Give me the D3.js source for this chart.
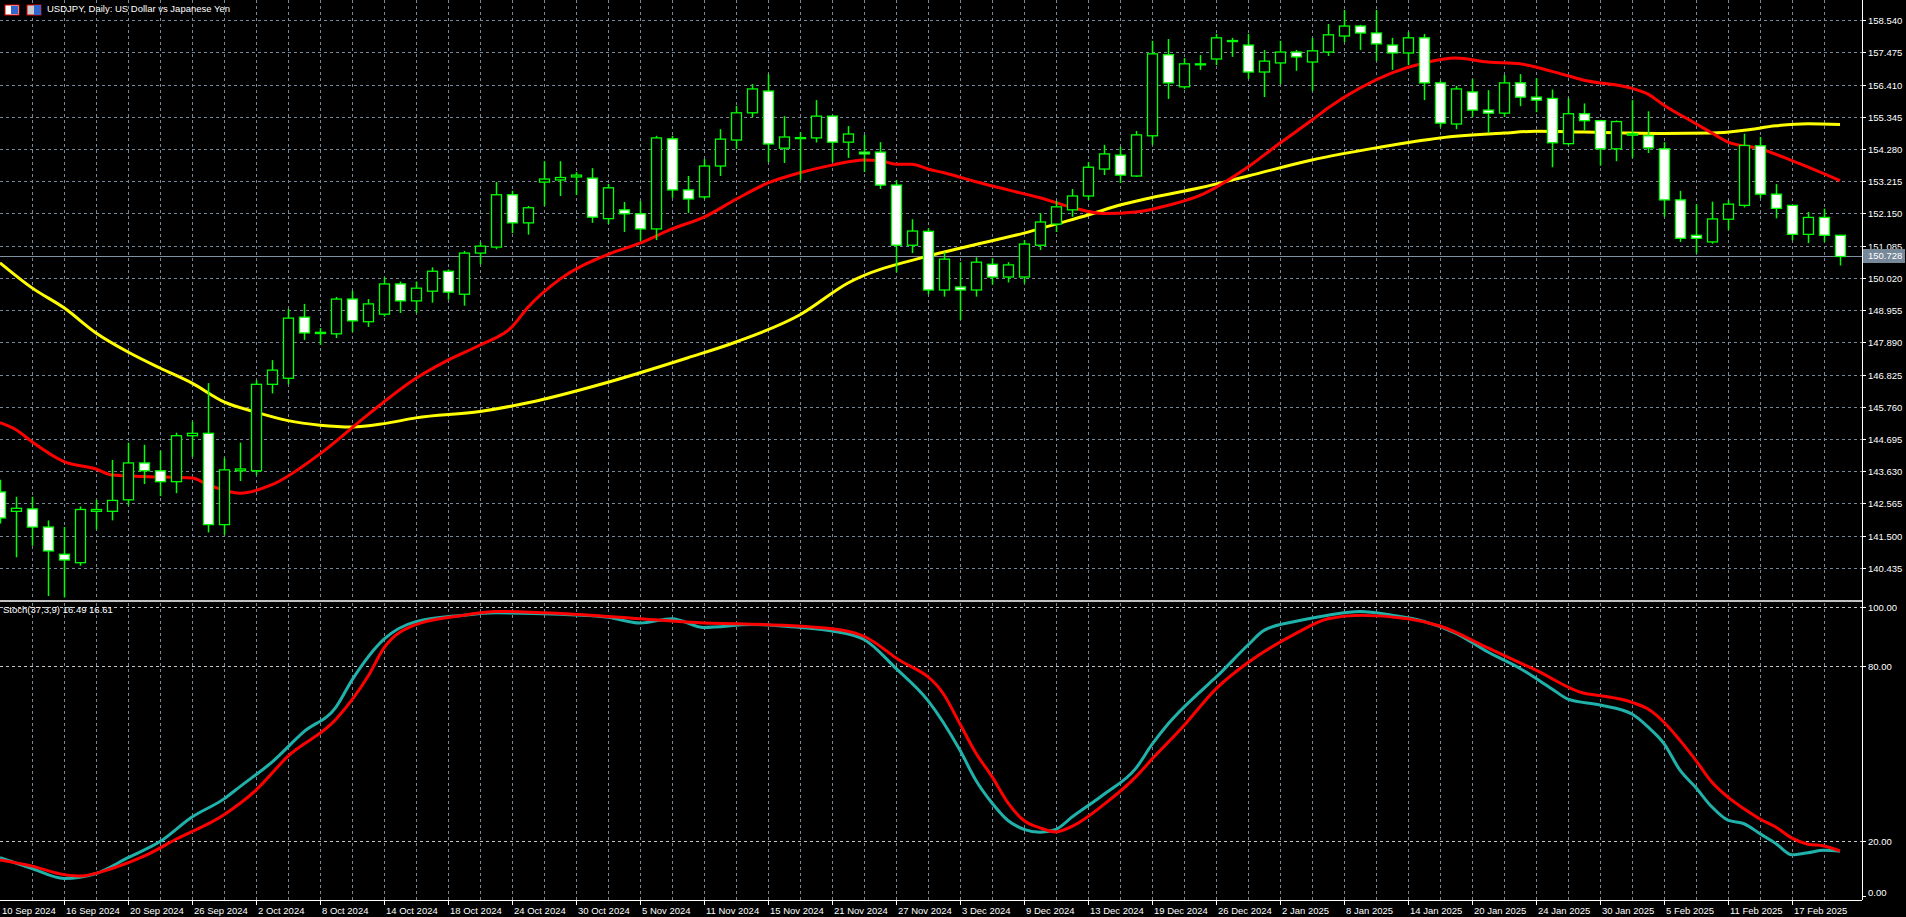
<!DOCTYPE html>
<html><head><meta charset="utf-8">
<script src="https://cdn.jsdelivr.net/npm/d3@7/dist/d3.min.js"></script>
<style>html,body{margin:0;padding:0;background:#000;overflow:hidden}svg{display:block}</style>
</head><body>
<script>
const dates = ["2024-09-10","2024-09-11","2024-09-12","2024-09-13","2024-09-16","2024-09-17","2024-09-18","2024-09-19","2024-09-20","2024-09-23","2024-09-24","2024-09-25","2024-09-26","2024-09-27","2024-09-30",
"2024-10-01","2024-10-02","2024-10-03","2024-10-04","2024-10-07","2024-10-08","2024-10-09","2024-10-10","2024-10-11","2024-10-14","2024-10-15","2024-10-16","2024-10-17","2024-10-18","2024-10-21","2024-10-22","2024-10-23","2024-10-24","2024-10-25","2024-10-28","2024-10-29","2024-10-30","2024-10-31",
"2024-11-01","2024-11-04","2024-11-05","2024-11-06","2024-11-07","2024-11-08","2024-11-11","2024-11-12","2024-11-13","2024-11-14","2024-11-15","2024-11-18","2024-11-19","2024-11-20","2024-11-21","2024-11-22","2024-11-25","2024-11-26","2024-11-27","2024-11-28","2024-11-29",
"2024-12-02","2024-12-03","2024-12-04","2024-12-05","2024-12-06","2024-12-09","2024-12-10","2024-12-11","2024-12-12","2024-12-13","2024-12-16","2024-12-17","2024-12-18","2024-12-19","2024-12-20","2024-12-23","2024-12-24","2024-12-26","2024-12-27","2024-12-30","2024-12-31",
"2025-01-02","2025-01-03","2025-01-06","2025-01-07","2025-01-08","2025-01-09","2025-01-10","2025-01-13","2025-01-14","2025-01-15","2025-01-16","2025-01-17","2025-01-20","2025-01-21","2025-01-22","2025-01-23","2025-01-24","2025-01-27","2025-01-28","2025-01-29","2025-01-30","2025-01-31",
"2025-02-03","2025-02-04","2025-02-05","2025-02-06","2025-02-07","2025-02-10","2025-02-11","2025-02-12","2025-02-13","2025-02-14","2025-02-17","2025-02-18","2025-02-19","2025-02-20"];
const open  = [142.94,142.30,142.38,141.78,140.88,140.60,142.30,142.30,142.68,143.90,143.64,143.28,144.80,144.88,141.86,143.64,143.64,146.50,146.70,148.72,148.22,148.17,149.32,148.57,148.82,149.82,149.26,149.58,150.24,149.48,150.84,151.04,152.77,151.84,153.19,153.26,153.36,153.32,151.98,152.27,152.14,151.64,154.62,152.93,152.70,153.72,154.58,155.48,156.20,154.31,154.64,154.65,155.37,154.51,154.18,154.18,153.09,151.10,151.56,149.62,149.72,149.62,150.47,150.05,150.05,151.10,151.80,152.27,152.73,153.62,154.08,153.39,154.72,157.40,156.34,157.07,157.26,157.85,157.72,156.83,157.13,157.49,157.16,157.49,158.02,158.35,158.12,157.72,157.46,157.96,156.47,155.11,156.17,155.57,155.47,156.47,156.00,155.955,154.46,155.45,155.22,154.29,154.74,154.72,154.29,152.60,151.43,151.21,151.96,152.42,154.39,152.79,152.42,151.46,152.02,151.43];
const high  = [143.34,142.78,142.78,142.00,141.78,142.46,142.68,144.00,144.57,144.50,144.30,144.90,145.27,146.54,144.07,144.57,146.64,147.30,148.99,149.16,148.36,149.39,149.59,149.32,150.04,149.90,149.90,150.37,150.30,150.91,151.20,153.19,152.90,152.40,153.88,153.88,153.52,153.65,153.13,152.53,152.56,154.72,154.72,153.39,153.95,154.94,155.71,156.43,156.76,155.37,154.84,155.90,155.40,155.04,154.75,154.51,153.25,151.96,151.66,150.87,150.54,150.70,150.67,150.54,151.27,152.17,152.57,152.96,153.85,154.42,154.35,154.88,157.86,157.92,157.29,157.39,158.09,157.96,158.09,157.56,157.86,157.56,157.96,158.42,158.88,158.39,158.88,157.96,158.15,158.09,156.54,156.37,156.60,156.23,156.73,156.76,156.63,156.25,155.97,155.79,155.25,155.23,155.90,155.53,154.51,152.90,152.46,152.54,152.59,154.79,154.68,153.12,152.43,152.20,152.31,151.43];
const low   = [141.90,140.78,141.16,139.50,139.45,140.50,141.70,142.00,142.50,143.20,142.80,142.90,144.10,141.60,141.52,143.30,143.50,146.20,146.50,147.97,147.80,148.03,148.23,148.40,148.74,148.86,148.86,149.20,149.30,149.10,150.47,150.97,151.50,151.45,152.40,152.73,152.76,151.84,151.80,151.54,151.24,151.27,152.67,152.17,152.63,153.39,154.28,155.34,153.85,153.82,153.26,154.50,153.85,153.99,153.52,152.96,150.20,150.84,149.48,149.40,148.63,149.40,149.80,149.87,149.84,150.94,151.54,152.04,152.60,153.42,153.16,153.36,154.42,155.94,156.27,156.90,157.06,157.33,156.60,156.00,156.43,156.87,156.20,157.36,157.82,157.56,157.20,156.90,157.06,155.90,155.00,154.94,155.34,154.81,155.34,155.70,155.50,153.68,154.40,154.90,153.73,153.88,153.99,154.15,152.04,151.21,150.83,151.15,151.61,152.35,152.66,151.99,151.26,151.17,151.21,150.43];
const close = [142.08,142.40,141.78,140.99,140.69,142.36,142.36,142.66,143.90,143.64,143.28,144.80,144.88,141.86,143.67,143.70,146.50,146.97,148.69,148.20,148.18,149.32,148.60,149.16,149.82,149.26,149.68,150.24,149.55,150.84,151.07,152.77,151.84,152.34,153.29,153.34,153.42,152.03,153.00,152.14,151.64,154.65,152.93,152.63,153.72,154.61,155.48,156.27,154.45,154.68,154.66,155.37,154.51,154.78,154.12,153.09,151.10,151.57,149.62,150.64,149.62,150.54,150.05,150.45,151.14,151.87,152.37,152.73,153.68,154.12,153.42,154.75,157.43,156.47,157.10,157.10,157.96,157.87,156.83,157.19,157.49,157.33,157.53,158.06,158.35,158.12,157.76,157.46,157.96,156.47,155.14,156.27,155.57,155.47,156.47,156.00,155.90,154.49,155.45,155.22,154.29,155.19,154.79,154.32,152.60,151.33,151.33,151.97,152.46,154.40,152.79,152.32,151.46,152.02,151.43,150.728];
// moving averages read at bar indices
const maRedIdx = [0,1,2,4,6,7,9,12,13,15,17,20,23,26,28,30,32,33,35,38,40,42,44,46,48,50,52,54,55,56,57,58,59,61,63,65,67,69,71,73,75,78,80,82,83,85,87,89,91,93,95,97,99,102,103,104,106,107,108,110,112,115];
const maRedVal = [145.23,145.0,144.6,143.94,143.7,143.5,143.45,143.4,143.18,142.9,143.18,144.2,145.5,146.7,147.3,147.8,148.4,149.05,149.98,150.8,151.17,151.64,152.03,152.62,153.16,153.5,153.75,153.92,153.9,153.78,153.78,153.62,153.5,153.2,152.93,152.67,152.35,152.15,152.2,152.42,152.75,153.69,154.48,155.24,155.64,156.3,156.8,157.13,157.29,157.16,157.1,156.85,156.56,156.29,156.1,155.73,155.12,154.81,154.51,154.29,153.9,153.24];
const maYelIdx = [0,2,4,6,8,10,12,14,16,18,20,22,24,26,30,33,38,43,46,50,53,58,60,62,64,66,68,70,72,75,78,82,86,90,94,96,101,104,107,109,111,113,115];
const maYelVal = [150.52,149.69,149.03,148.2,147.57,147.04,146.54,145.92,145.58,145.3,145.15,145.09,145.2,145.39,145.6,145.89,146.57,147.38,147.9,148.8,149.85,150.74,151.0,151.25,151.5,151.8,152.1,152.43,152.68,153.0,153.39,153.92,154.32,154.65,154.81,154.87,154.82,154.8,154.81,154.9,155.05,155.12,155.09];
// stochastic
const stMainIdx = [0,2,4,6,8,10,12,14,15,17,19,21,22,24,26,29,31,35,38,40,42,44,47,50,52,54,56,58,60,61,62,63,64,65,66,67,69,71,72,73,75,76,78,79,81,83,85,87,89,91,93,95,97,98,100,102,103,104,105,106,107,108,109,110,111,112,113,114,115];
const stMainVal = [14.3,10.6,7.2,8.9,14.3,19.8,28.2,34.4,38.6,47,57.4,65.8,75,89,95,97.2,98,97.5,96.5,94.5,96,93,94,93,91.8,88.9,79,68,51,40.7,33,27,24,23,24,28.2,36,44.9,53,60,71,76,87,92,95.1,97.2,98.5,97.2,95.1,91,84.6,79,72,68.5,66.5,63.4,59,53.3,44.2,38.2,31.6,27.1,25.9,22.5,19.1,15.3,16,16.8,16.49];
const stSigIdx = [0,2,4,5,7,9,11,14,16,18,21,23,24,26,29,31,35,40,44,46,52,54,56,59,60,61,62,63,64,65,66,67,69,71,72,74,76,78,81,83,85,88,90,93,96,99,100,102,103,104,105,106,107,108,109,110,111,112,113,114,115];
const stSigVal = [13.5,11.4,8.5,8,10.6,14.8,20.6,29,37.4,49,61.6,76.3,86,94,97.2,98.5,97.8,96,94.5,94.3,92.6,90,82.6,70,60,50,42,33,27,24.5,23.1,25,32.5,42,48,59.5,72,81,91,96,97.2,96,93.5,86,78.4,70.5,69.7,67.4,65.1,60.6,54.4,47.5,40.1,35,31,27.5,24.7,21,18.9,18.3,16.61];
const priceTicks = [158.540,157.475,156.410,155.345,154.280,153.215,152.150,151.085,150.020,148.955,147.890,146.825,145.760,144.695,143.630,142.565,141.500,140.435];
const stochTicks = [100,80,20,0];
const lastPrice = 150.728;
const title = "USDJPY, Daily:  US Dollar vs Japanese Yen";
const stochLabel = "Stoch(37,3,9) 16.49 16.61";

const W=1906,H=917, plotR=1862, mainTop=0, sep=601, subBot=900;
const FONT="'Liberation Sans', Arial, sans-serif";
const svg=d3.select("body").append("svg").attr("width",W).attr("height",H).style("background","#000");
const x=d3.scaleLinear().domain([0,115]).range([0,1840]);
const y=d3.scaleLinear().domain([140.435,158.540]).range([567.7,20.3]);
const ys=d3.scaleLinear().domain([0,100]).range([899.5,607]);
const grid="#778899";
const gMain=svg.append("g");
// grid
const vg=d3.range(2,116,2);
gMain.selectAll(".vg").data(vg).join("line").attr("x1",d=>x(d)+0.5).attr("x2",d=>x(d)+0.5).attr("y1",0).attr("y2",sep-1).attr("stroke",grid).attr("stroke-dasharray","3,3");
svg.selectAll(".vg2").data(vg).join("line").attr("x1",d=>x(d)+0.5).attr("x2",d=>x(d)+0.5).attr("y1",sep+2).attr("y2",subBot).attr("stroke",grid).attr("stroke-dasharray","3,3");
gMain.selectAll(".hg").data(priceTicks).join("line").attr("x1",0).attr("x2",plotR).attr("y1",d=>Math.round(y(d))+0.5).attr("y2",d=>Math.round(y(d))+0.5).attr("stroke",grid).attr("stroke-dasharray","3,3");
svg.selectAll(".hs").data([100,80,20]).join("line").attr("x1",0).attr("x2",plotR).attr("y1",d=>Math.round(ys(d))+0.5).attr("y2",d=>Math.round(ys(d))+0.5).attr("stroke","#c8c8c8").attr("stroke-dasharray","3,3");
// last price line
gMain.append("line").attr("x1",0).attr("x2",plotR).attr("y1",Math.round(y(lastPrice))+0.5).attr("y2",Math.round(y(lastPrice))+0.5).attr("stroke","#8090a0");
// MAs
const line=d3.line().x(d=>x(d[0])).y(d=>y(d[1])).curve(d3.curveMonotoneX);
gMain.append("path").datum(maYelIdx.map((v,i)=>[v,maYelVal[i]])).attr("d",line).attr("fill","none").attr("stroke","#ffff00").attr("stroke-width",3);
gMain.append("path").datum(maRedIdx.map((v,i)=>[v,maRedVal[i]])).attr("d",line).attr("fill","none").attr("stroke","#ff0000").attr("stroke-width",3);
// candles
const bars=d3.range(dates.length);
gMain.selectAll(".wick").data(bars).join("line").attr("x1",i=>x(i)+0.5).attr("x2",i=>x(i)+0.5).attr("y1",i=>y(high[i])).attr("y2",i=>y(low[i])).attr("stroke","#00ff00").attr("stroke-width",1.5);
gMain.selectAll(".body").data(bars).join("rect")
 .attr("x",i=>x(i)-4.5).attr("width",10)
 .attr("y",i=>y(Math.max(open[i],close[i]))).attr("height",i=>Math.max(1,Math.abs(y(open[i])-y(close[i]))))
 .attr("fill",i=>close[i]>=open[i]?"#000":"#fff").attr("stroke","#00ff00").attr("stroke-width",1.3);
// stochastic
const sline=d3.line().x(d=>x(d[0])).y(d=>ys(d[1])).curve(d3.curveMonotoneX);
svg.append("path").datum(stMainIdx.map((v,i)=>[v,stMainVal[i]])).attr("d",sline).attr("fill","none").attr("stroke","#20b2aa").attr("stroke-width",3);
svg.append("path").datum(stSigIdx.map((v,i)=>[v,stSigVal[i]])).attr("d",sline).attr("fill","none").attr("stroke","#ff0000").attr("stroke-width",3);
// frame
svg.append("line").attr("x1",0).attr("x2",plotR).attr("y1",sep).attr("y2",sep).attr("stroke","#c0c0c0").attr("stroke-width",2);
svg.append("line").attr("x1",plotR+0.5).attr("x2",plotR+0.5).attr("y1",0).attr("y2",subBot).attr("stroke","#fff");
svg.append("line").attr("x1",0).attr("x2",plotR).attr("y1",subBot+0.5).attr("y2",subBot+0.5).attr("stroke","#fff");
// price axis labels
const ax=svg.append("g").attr("font-family",FONT).attr("font-size","9.5px").attr("fill","#fff");
priceTicks.forEach(p=>{const yy=Math.round(y(p))+0.5;
 ax.append("line").attr("x1",plotR).attr("x2",plotR+4).attr("y1",yy).attr("y2",yy).attr("stroke","#fff");
 ax.append("text").attr("x",plotR+6).attr("y",yy).attr("dy","0.35em").text(p.toFixed(3));});
const ly=Math.round(y(lastPrice));
ax.append("rect").attr("x",plotR+1).attr("y",ly-7).attr("width",42).attr("height",14).attr("fill","#778899");
ax.append("text").attr("x",plotR+6).attr("y",ly).attr("dy","0.35em").attr("fill","#fff").text(lastPrice.toFixed(3));
stochTicks.forEach(v=>{const yy=Math.round(Math.min(ys(v),896))+0.5;
 ax.append("line").attr("x1",plotR).attr("x2",plotR+4).attr("y1",yy).attr("y2",yy).attr("stroke","#fff");
 ax.append("text").attr("x",plotR+6).attr("y",v===0?yy-4:yy).attr("dy","0.35em").text(v.toFixed(2));});
// date labels
const fmtIn=d3.timeParse("%Y-%m-%d"), fmtOut=d3.timeFormat("%-d %b %Y");
d3.range(0,dates.length,4).forEach(i=>{const xx=Math.max(0,x(i));
 if(i>0) ax.append("line").attr("x1",xx+0.5).attr("x2",xx+0.5).attr("y1",subBot).attr("y2",subBot+5).attr("stroke","#fff");
 ax.append("text").attr("x",i===0?2:xx+2).attr("y",911).attr("dy","0.35em").text(fmtOut(fmtIn(dates[i])));});
// title & icons
ax.append("rect").attr("x",5).attr("y",5).attr("width",14).attr("height",10).attr("fill","#fff").attr("stroke","#d00").attr("stroke-width",1);
ax.append("rect").attr("x",11).attr("y",6).attr("width",7).attr("height",8).attr("fill","#36c");
ax.append("rect").attr("x",27).attr("y",5).attr("width",14).attr("height",10).attr("fill","#ccc").attr("stroke","#d00");
ax.append("rect").attr("x",34).attr("y",5).attr("width",7).attr("height",10).attr("fill","#36c");
ax.append("text").attr("x",47).attr("y",9).attr("dy","0.35em").text(title);
ax.append("text").attr("x",3).attr("y",610).attr("dy","0.35em").text(stochLabel);
</script>
</body></html>
